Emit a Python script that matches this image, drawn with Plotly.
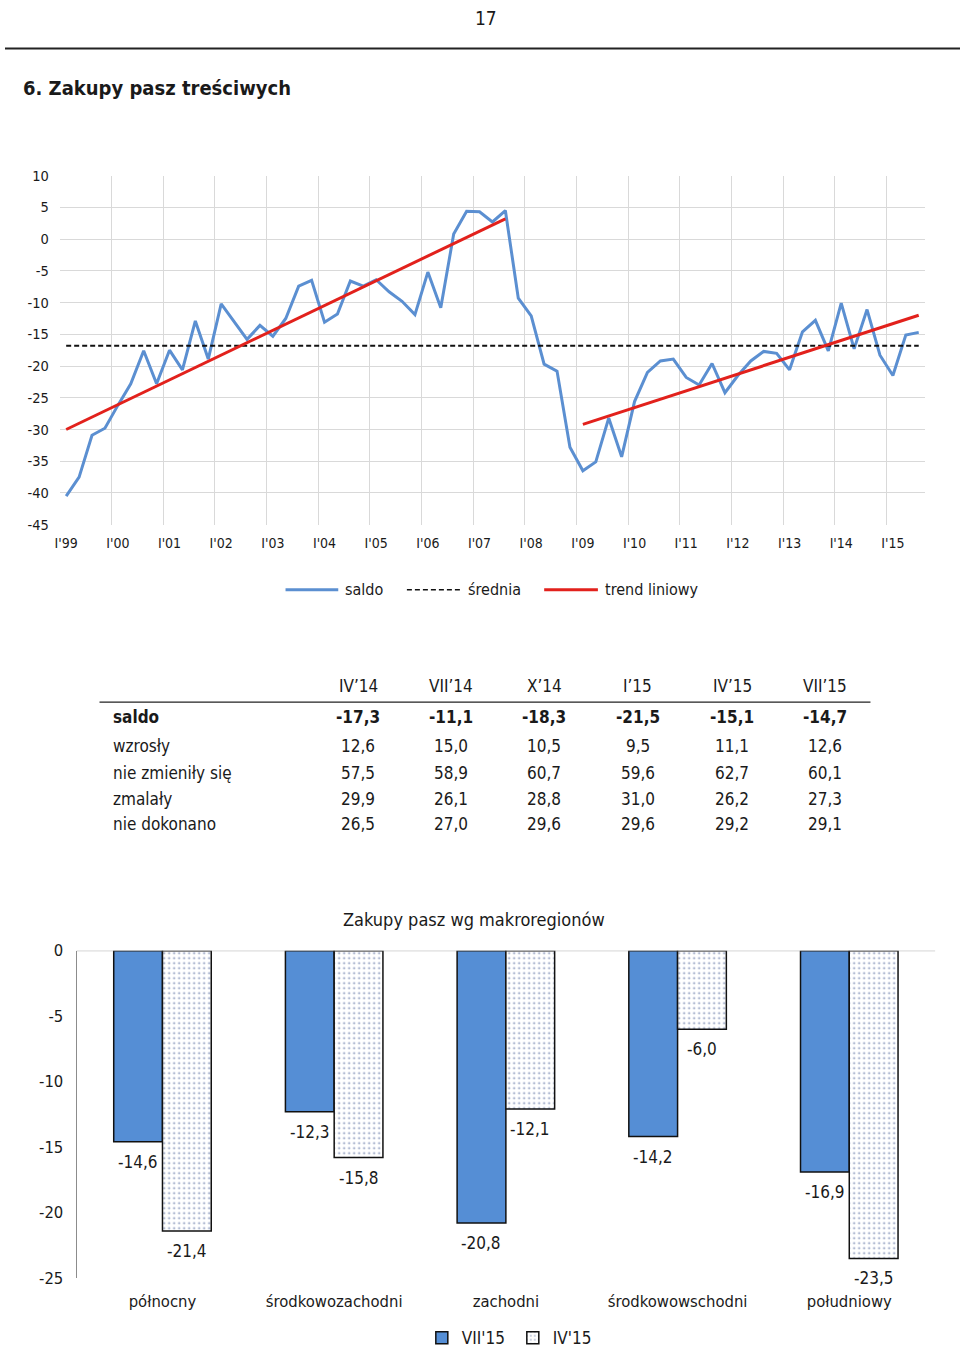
import plotly.graph_objects as go

# ---------------- data ----------------
year_labels = ["I'99", "I'00", "I'01", "I'02", "I'03", "I'04", "I'05", "I'06", "I'07",
               "I'08", "I'09", "I'10", "I'11", "I'12", "I'13", "I'14", "I'15"]
y1_ticks = [10, 5, 0, -5, -10, -15, -20, -25, -30, -35, -40, -45]
y1_labels = ["10", "5", "0", "-5", "-10", "-15", "-20", "-25", "-30", "-35", "-40", "-45"]
saldo = [-40.5, -37.5, -30.9, -29.8, -26.2, -22.8, -17.6, -22.8, -17.5, -20.6,
         -12.9, -18.9, -10.2, -13.0, -15.8, -13.6, -15.3, -12.5, -7.4, -6.5,
         -13.1, -11.8, -6.6, -7.4, -6.4, -8.3, -9.8, -11.9, -5.2, -10.8,
         0.8, 4.4, 4.3, 2.7, 4.5, -9.3, -12.1, -19.7, -20.8, -32.8,
         -36.5, -35.1, -28.2, -34.3, -25.6, -21.0, -19.2, -18.9, -21.8, -23.0,
         -19.6, -24.2, -21.5, -19.2, -17.7, -18.0, -20.6, -14.6, -12.8, -17.6,
         -10.1, -17.3, -11.1, -18.3, -21.5, -15.1, -14.7]
srednia = -16.8
trend_q = [0, 34, None, 40, 66]
trend_v = [-30.0, 3.2, None, -29.2, -12.0]

table_cols = ["IV\u201914", "VII\u201914", "X\u201914", "I\u201915", "IV\u201915", "VII\u201915"]
table_rows = ["saldo", "wzrosły", "nie zmieniły się", "zmalały", "nie dokonano"]
table_saldo = ["-17,3", "-11,1", "-18,3", "-21,5", "-15,1", "-14,7"]
table_wzrosly = ["12,6", "15,0", "10,5", "9,5", "11,1", "12,6"]
table_bez_zmian = ["57,5", "58,9", "60,7", "59,6", "62,7", "60,1"]
table_zmalaly = ["29,9", "26,1", "28,8", "31,0", "26,2", "27,3"]
table_nie_dokonano = ["26,5", "27,0", "29,6", "29,6", "29,2", "29,1"]

regions = ["północny", "środkowozachodni", "zachodni", "środkowowschodni", "południowy"]
vii15 = [-14.6, -12.3, -20.8, -14.2, -16.9]
iv15 = [-21.4, -15.8, -12.1, -6.0, -23.5]
y2_ticks = [0, -5, -10, -15, -20, -25]
y2_labels = ["0", "-5", "-10", "-15", "-20", "-25"]

# ---------------- styling ----------------
W, H = 960, 1361
FONT = "DejaVu Sans Condensed, DejaVu Sans, sans-serif"
TXT = "#1a1a1a"
GRID = "#d9d9d9"
BLUE = "#5b8fd1"
RED = "#e2211c"
BAR_BLUE = "#558ed5"
DOT = "#8393b8"


def px(x):
    return x / W


def py(y):
    return 1 - y / H


quarters = list(range(len(saldo)))

fig = go.Figure()

fig.add_trace(go.Scatter(x=quarters, y=saldo, mode="lines",
                         line=dict(color=BLUE, width=3), showlegend=False,
                         xaxis="x", yaxis="y", hoverinfo="skip"))
fig.add_trace(go.Scatter(x=[quarters[0], quarters[-1]], y=[srednia, srednia], mode="lines",
                         line=dict(color="#111111", width=2, dash="5px,3px"), showlegend=False,
                         xaxis="x", yaxis="y", hoverinfo="skip"))
fig.add_trace(go.Scatter(x=trend_q, y=trend_v, mode="lines",
                         line=dict(color=RED, width=3), showlegend=False,
                         xaxis="x", yaxis="y", hoverinfo="skip", connectgaps=False))

fig.add_trace(go.Bar(x=regions, y=vii15, name="VII'15",
                     marker=dict(color=BAR_BLUE, line=dict(color="#111111", width=1.5)),
                     xaxis="x2", yaxis="y2", legend="legend2", hoverinfo="skip"))
fig.add_trace(go.Bar(x=regions, y=iv15, name="IV'15",
                     marker=dict(color=DOT,
                                 pattern=dict(shape=".", fgcolor=DOT, bgcolor="white",
                                              size=5, solidity=0.12, fillmode="replace"),
                                 line=dict(color="#111111", width=1.5)),
                     xaxis="x2", yaxis="y2", legend="legend2", hoverinfo="skip"))

annotations = []
shapes = []

# page header
annotations.append(dict(text="17", x=px(484), y=py(9), xref="paper", yref="paper",
                        showarrow=False, font=dict(size=19, color=TXT, family=FONT),
                        xanchor="center", yanchor="middle"))
shapes.append(dict(type="line", xref="paper", yref="paper", x0=0, x1=1, y0=py(40), y1=py(40),
                   line=dict(color="#222222", width=2)))
annotations.append(dict(text="<b>6. Zakupy pasz treściwych</b>", x=px(16), y=py(80),
                        xref="paper", yref="paper", showarrow=False,
                        font=dict(size=20, color=TXT, family=FONT),
                        xanchor="left", yanchor="middle"))

# manual legend for line chart
leg_y = py(589)
for x0, x1, col, dash, w, label in [
    (282, 335, BLUE, "solid", 3, "saldo"),
    (404, 458, "#111111", "5px,3px", 1.5, "średnia"),
    (542, 596, RED, "solid", 3, "trend liniowy"),
]:
    shapes.append(dict(type="line", xref="paper", yref="paper", x0=px(x0), x1=px(x1),
                       y0=leg_y, y1=leg_y, line=dict(color=col, width=w, dash=dash)))
    annotations.append(dict(text=label, x=px(x1 + 5), y=leg_y, xref="paper", yref="paper",
                            showarrow=False, font=dict(size=16, color=TXT, family=FONT),
                            xanchor="left", yanchor="middle"))

# table
col_x = [355, 448, 542, 636, 731, 824]
for cx, c in zip(col_x, table_cols):
    annotations.append(dict(text=c, x=px(cx), y=py(687), xref="paper", yref="paper",
                            showarrow=False, font=dict(size=17, color=TXT, family=FONT),
                            xanchor="center", yanchor="middle"))
shapes.append(dict(type="line", xref="paper", yref="paper", x0=px(95), x1=px(870),
                   y0=py(703), y1=py(703), line=dict(color="#222222", width=1.2)))
row_y = [718, 747, 775, 801, 827]
row_vals = [table_saldo, table_wzrosly, table_bez_zmian, table_zmalaly, table_nie_dokonano]
for r, (ry, name, vals) in enumerate(zip(row_y, table_rows, row_vals)):
    bold = r == 0
    lab = f"<b>{name}</b>" if bold else name
    annotations.append(dict(text=lab, x=px(107), y=py(ry), xref="paper", yref="paper",
                            showarrow=False, font=dict(size=17, color=TXT, family=FONT),
                            xanchor="left", yanchor="middle"))
    for cx, v in zip(col_x, vals):
        t = f"<b>{v}</b>" if bold else v
        annotations.append(dict(text=t, x=px(cx), y=py(ry), xref="paper", yref="paper",
                                showarrow=False, font=dict(size=17, color=TXT, family=FONT),
                                xanchor="center", yanchor="middle"))

# bar chart title
annotations.append(dict(text="Zakupy pasz wg makroregionów", x=px(471), y=py(923),
                        xref="paper", yref="paper", showarrow=False,
                        font=dict(size=18, color=TXT, family=FONT),
                        xanchor="center", yanchor="middle"))

# bar value labels
for series, shift in [(vii15, -24.5), (iv15, 24.5)]:
    for reg, v in zip(regions, series):
        annotations.append(dict(text=f"{v:.1f}".replace(".", ","), x=reg, y=v,
                                xref="x2", yref="y2", showarrow=False,
                                xshift=shift, yshift=-20,
                                font=dict(size=17, color=TXT, family=FONT),
                                xanchor="center", yanchor="middle"))

# zero line of bar chart
shapes.append(dict(type="line", xref="x2 domain", yref="y2", x0=0, x1=1, y0=0, y1=0,
                   line=dict(color="#8c8c8c", width=1)))

fig.update_layout(
    width=W, height=H,
    margin=dict(l=0, r=0, t=0, b=0),
    paper_bgcolor="white", plot_bgcolor="white",
    font=dict(family=FONT, color=TXT),
    separators=", ",
    barmode="group", bargap=0.432, bargroupgap=0,
    hovermode=False,
    annotations=annotations, shapes=shapes,
    xaxis=dict(domain=[px(55), px(925)], range=[-0.5, len(saldo) - 0.5], anchor="y",
               tickmode="array", tickvals=quarters[::4], ticktext=year_labels,
               showgrid=False, zeroline=False, showline=False,
               minor=dict(tick0=-0.5, dtick=4, showgrid=True, gridcolor=GRID, gridwidth=1),
               ticks="outside", ticklen=6, tickcolor="rgba(0,0,0,0)",
               tickfont=dict(size=14, color=TXT, family=FONT)),
    yaxis=dict(domain=[py(523), py(169)], range=[-45, 10], anchor="x",
               tickmode="array", tickvals=y1_ticks, ticktext=y1_labels,
               showgrid=True, gridcolor=GRID, gridwidth=1,
               zeroline=False, showline=False,
               ticks="outside", ticklen=7, tickcolor="rgba(0,0,0,0)",
               tickfont=dict(size=14.5, color=TXT, family=FONT)),
    xaxis2=dict(domain=[px(72), px(935)], anchor="y2", showgrid=False, zeroline=False,
                showline=False, ticks="outside", ticklen=8, tickcolor="rgba(0,0,0,0)",
                tickfont=dict(size=16.5, color=TXT, family=FONT)),
    yaxis2=dict(domain=[py(1287), py(955)], range=[-25, 0], anchor="x2",
                tickmode="array", tickvals=y2_ticks, ticktext=y2_labels,
                showgrid=False, zeroline=False,
                showline=True, linecolor="#8c8c8c", linewidth=1,
                ticks="outside", ticklen=9, tickcolor="rgba(0,0,0,0)",
                tickfont=dict(size=16.5, color=TXT, family=FONT)),
    legend2=dict(orientation="h", x=px(419), y=py(1348), xanchor="left", yanchor="middle",
                 font=dict(size=17, color=TXT, family=FONT), bgcolor="rgba(0,0,0,0)",
                 entrywidth=46, entrywidthmode="pixels", tracegroupgap=0),
)

POST = (
    "var d=document.getElementById('{plot_id}');"
    "d.style.position='fixed';d.style.left='0px';d.style.top='0px';"
    "document.documentElement.style.margin='0';document.documentElement.style.padding='0';"
    "document.body.style.margin='0';document.body.style.padding='0';"
    "document.documentElement.style.overflow='hidden';document.body.style.overflow='hidden';"
)

fig.write_html("out.html", config={"displayModeBar": False, "staticPlot": True},
               post_script=POST)
